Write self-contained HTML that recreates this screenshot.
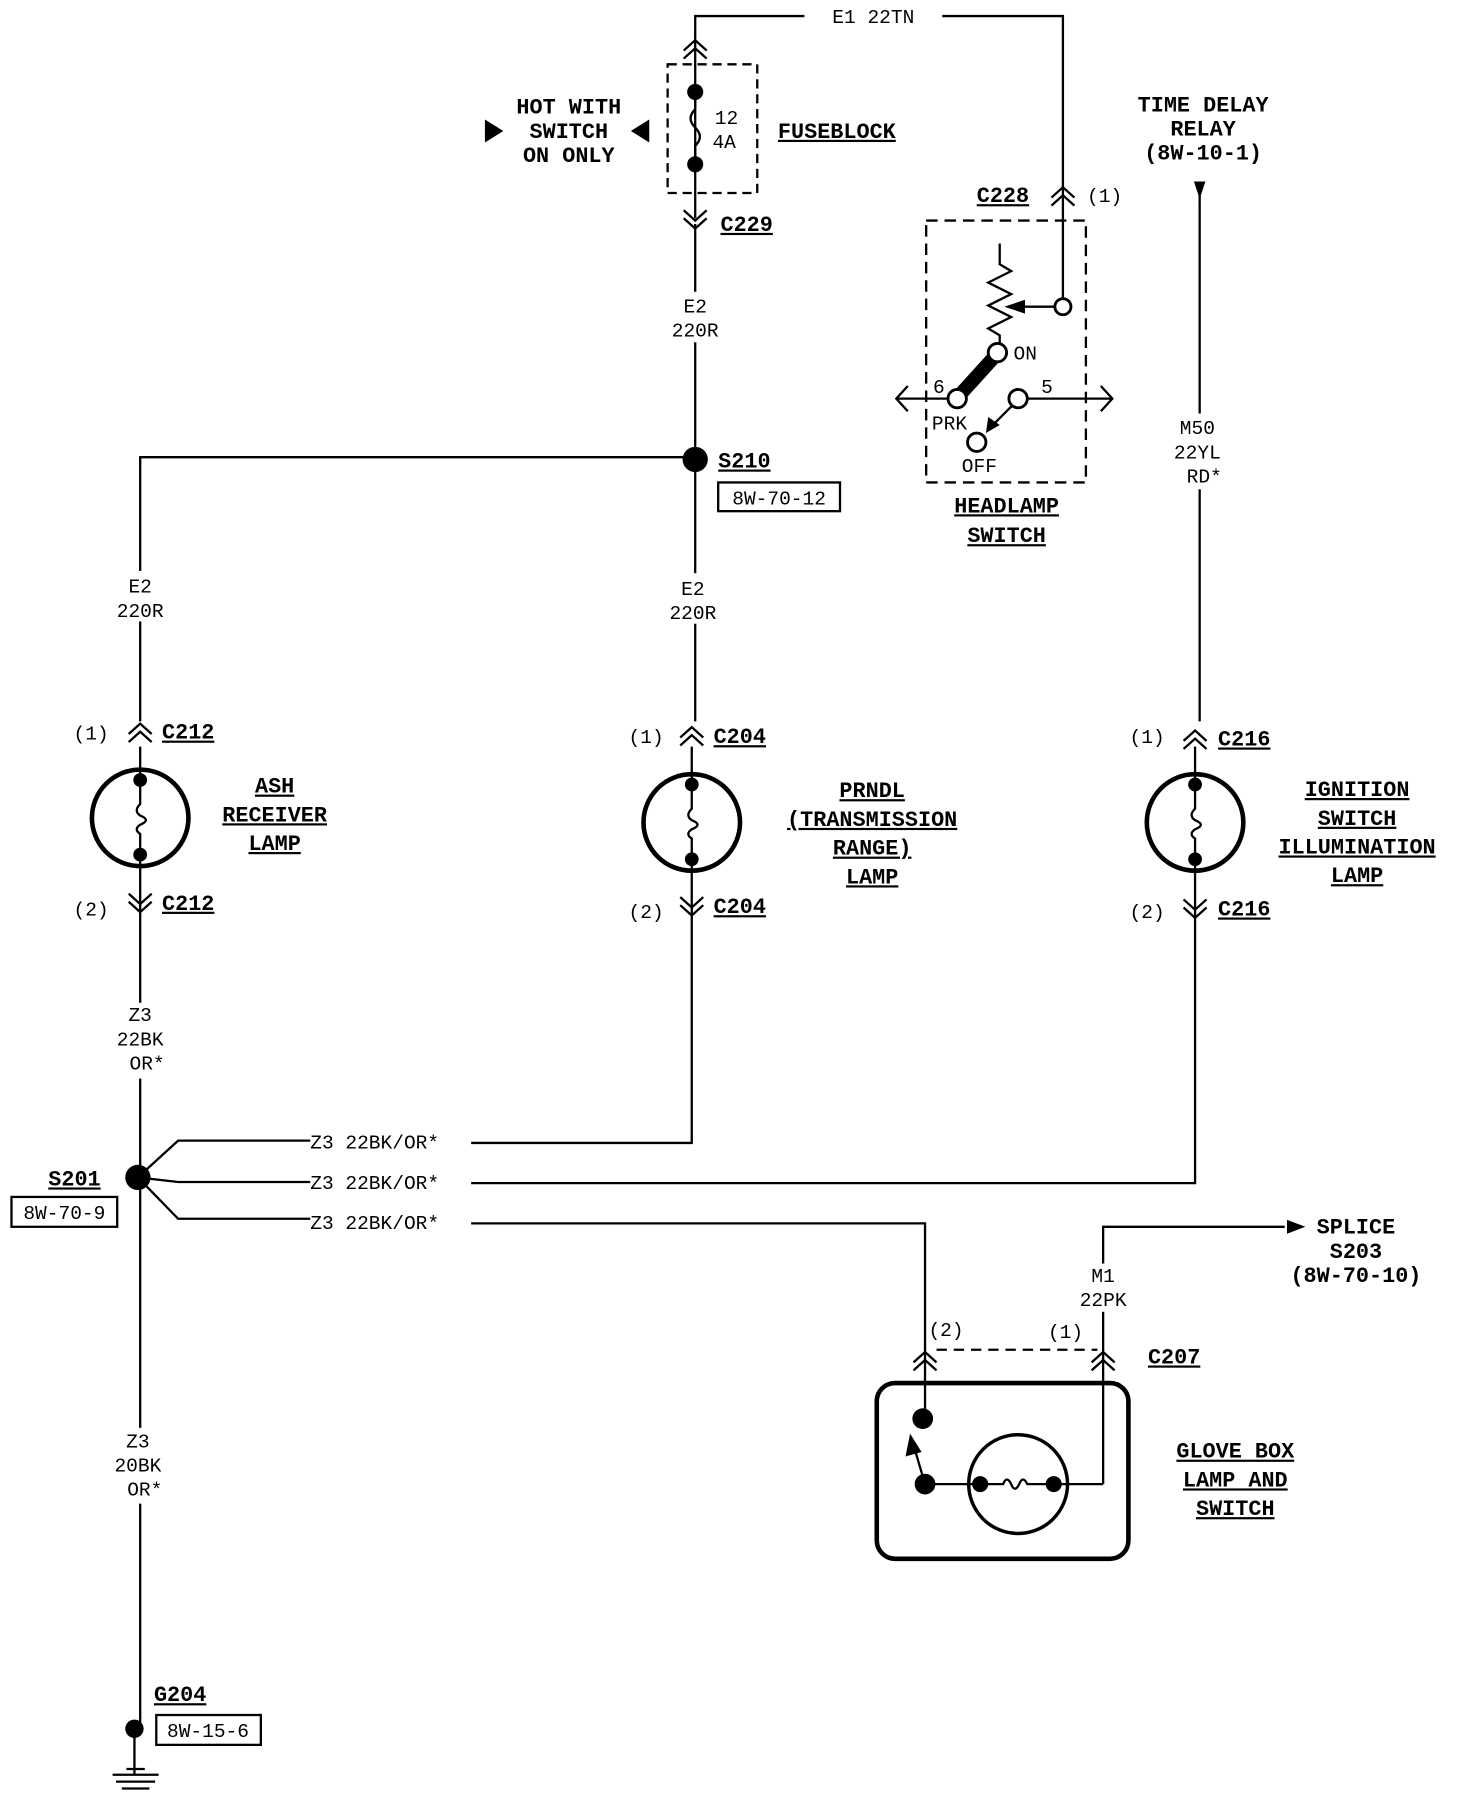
<!DOCTYPE html>
<html><head><meta charset="utf-8"><style>
html,body{margin:0;padding:0;background:#fff;}
svg{display:block}
text{font-family:"Liberation Mono",monospace;fill:#000}
.b{font-weight:bold;font-size:19px;text-decoration:underline}
.bn{font-weight:bold;font-size:19px}
.n{font-size:17px}
</style></head><body>
<svg width="1472" height="1800" viewBox="0 0 1281 1567" preserveAspectRatio="none" xmlns="http://www.w3.org/2000/svg">
<defs>
<path id="cu" d="M-10,6 L0,-3 L10,6 M-10,13 L0,4 L10,13" fill="none" stroke="#000" stroke-width="2"/>
<path id="cd" d="M-10,-6 L0,3 L10,-6 M-10,-13 L0,-4 L10,-13" fill="none" stroke="#000" stroke-width="2"/>
</defs>
<g fill="none" stroke="#000" stroke-width="2">
<path d="M605,190 V14 H700 M820,14 H925 V267"/>
<rect x="581" y="56" width="78" height="112" stroke-dasharray="8,5"/>
<path d="M605,80 V95 q-8,8 0,16 q8,8 0,16 V143"/>
<path d="M605,195 V628 M605,398 H122 V628"/>
<path d="M122,650 V670 M122,756 V1505 M602,650 V673 M602,759 V995 H410"/>
<path d="M1040,650 V673 M1040,759 V1030 H410"/>
<path d="M1044,175 V628"/>
<path d="M120,1025 L155,993 H270 M120,1025 L155,1029 H270 M120,1025 L155,1061 H270"/>
<path d="M410,1065 H805 V1235"/>
<path d="M960,1292 V1068 H1118"/>
<path d="M815,1175 H955" stroke-dasharray="9,6"/>
<circle cx="122" cy="712" r="42" stroke-width="4"/>
<circle cx="602" cy="716" r="42" stroke-width="4"/>
<circle cx="1040" cy="716" r="42" stroke-width="4"/>
<path d="M122,670 V700 q-6,6 0,10 q10,4 0,8 q-6,4 0,8 V756 M602,673 V704 q-6,6 0,10 q10,4 0,8 q-6,4 0,8 V759 M1040,673 V704 q-6,6 0,10 q10,4 0,8 q-6,4 0,8 V759"/>
<rect x="763" y="1204" width="219" height="153" rx="16" stroke-width="4"/>
<circle cx="886" cy="1292" r="43" stroke-width="3"/>
<path d="M805,1292 H853 M917,1292 H960 M853,1292 h20 q3,-8 7,0 q3,8 7,0 q3,-8 7,0 h23"/>
<path d="M805,1292 L795,1258"/>
<rect x="806" y="192" width="139" height="228" stroke-dasharray="10,6"/>
<path d="M870,212 V230 l10,6 l-20,10 l20,10 l-20,10 l20,10 l-20,10 l10,6 V300"/>
<path d="M925,267 H890"/>
<path d="M780,347 H827 M892,347 H968 M790,336 L780,347 L790,358 M958,336 L968,347 L958,358"/>
<path d="M882,352 L862,372"/>
<path d="M836,343 L865,311" stroke-width="12"/>
<path d="M1044,160 V175"/>
<path d="M110,1540 H126 M98,1545 H138 M101,1551 H135 M106,1557 H130 M117,1505 V1545"/>
<rect x="625" y="420" width="106" height="25"/>
<rect x="10" y="1042" width="92" height="26"/>
<rect x="136" y="1493" width="91" height="26"/>
</g>
<g fill="#fff">
<rect x="575" y="254" width="60" height="44"/>
<rect x="92" y="497" width="60" height="44"/>
<rect x="573" y="499" width="60" height="44"/>
<rect x="92" y="873" width="60" height="66"/>
<rect x="90" y="1243" width="60" height="66"/>
<rect x="1010" y="360" width="66" height="66"/>
<rect x="930" y="1100" width="60" height="42"/>
</g>
<g fill="#fff" stroke="#000" stroke-width="2.5">
<circle cx="925" cy="267" r="7"/>
<circle cx="868" cy="307" r="8"/>
<circle cx="833" cy="347" r="8"/>
<circle cx="886" cy="347" r="8"/>
<circle cx="850" cy="385" r="8"/>
</g>
<g fill="#000">
<circle cx="605" cy="80" r="7"/><circle cx="605" cy="143" r="7"/>
<circle cx="605" cy="400" r="11"/><circle cx="120" cy="1025" r="11"/>
<circle cx="117" cy="1505" r="8"/>
<circle cx="122" cy="679" r="6"/><circle cx="122" cy="744" r="6"/>
<circle cx="602" cy="683" r="6"/><circle cx="602" cy="748" r="6"/>
<circle cx="1040" cy="683" r="6"/><circle cx="1040" cy="748" r="6"/>
<circle cx="803" cy="1235" r="9"/><circle cx="805" cy="1292" r="9"/>
<circle cx="853" cy="1292" r="7"/><circle cx="917" cy="1292" r="7"/>
<path d="M874,267 L892,261 L892,273Z"/>
<path d="M858,377 L860,363 L870,370Z"/>
<path d="M792,1248 L788,1268 L802,1264Z"/>
<path d="M1044,173 L1039,158 L1049,158Z"/>
<path d="M422,104 L438,114 L422,124Z M565,104 L549,114 L565,124Z"/>
<path d="M1136,1068 L1120,1062 L1120,1074Z"/>
</g>
<use href="#cu" x="605" y="38"/><use href="#cd" x="605" y="196"/>
<use href="#cu" x="925" y="166"/>
<use href="#cu" x="122" y="633"/><use href="#cd" x="122" y="791"/>
<use href="#cu" x="602" y="636"/><use href="#cd" x="602" y="794"/>
<use href="#cu" x="1040" y="639"/><use href="#cd" x="1040" y="796"/>
<use href="#cu" x="805" y="1180"/><use href="#cu" x="960" y="1180"/>
<text class="n" x="760" y="20" text-anchor="middle">E1 22TN</text>
<text class="bn" x="495" y="99" text-anchor="middle">HOT WITH</text>
<text class="bn" x="495" y="120" text-anchor="middle">SWITCH</text>
<text class="bn" x="495" y="141" text-anchor="middle">ON ONLY</text>
<text class="n" x="622" y="108">12</text><text class="n" x="620" y="129">4A</text>
<text class="b" x="677" y="120">FUSEBLOCK</text>
<text class="b" x="627" y="201">C229</text>
<text class="n" x="605" y="272" text-anchor="middle">E2</text>
<text class="n" x="605" y="293" text-anchor="middle">220R</text>
<text class="b" x="625" y="407">S210</text>
<text class="n" x="678" y="439" text-anchor="middle">8W-70-12</text>
<text class="bn" x="1047" y="97" text-anchor="middle">TIME DELAY</text>
<text class="bn" x="1047" y="118" text-anchor="middle">RELAY</text>
<text class="bn" x="1047" y="139" text-anchor="middle">(8W-10-1)</text>
<text class="b" x="850" y="176">C228</text><text class="n" x="946" y="176">(1)</text>
<text class="n" x="882" y="313">ON</text><text class="n" x="812" y="342">6</text>
<text class="n" x="906" y="342">5</text><text class="n" x="811" y="374">PRK</text>
<text class="n" x="837" y="411">OFF</text>
<text class="b" x="876" y="446" text-anchor="middle">HEADLAMP</text>
<text class="b" x="876" y="472" text-anchor="middle">SWITCH</text>
<text class="n" x="1042" y="378" text-anchor="middle">M50</text>
<text class="n" x="1042" y="399" text-anchor="middle">22YL</text>
<text class="n" x="1048" y="420" text-anchor="middle">RD*</text>
<text class="n" x="122" y="516" text-anchor="middle">E2</text><text class="n" x="122" y="537" text-anchor="middle">220R</text>
<text class="n" x="603" y="518" text-anchor="middle">E2</text><text class="n" x="603" y="539" text-anchor="middle">220R</text>
<text class="n" x="64" y="644">(1)</text><text class="b" x="141" y="643">C212</text>
<text class="n" x="64" y="797">(2)</text><text class="b" x="141" y="792">C212</text>
<text class="n" x="547" y="647">(1)</text><text class="b" x="621" y="647">C204</text>
<text class="n" x="547" y="799">(2)</text><text class="b" x="621" y="795">C204</text>
<text class="n" x="983" y="647">(1)</text><text class="b" x="1060" y="649">C216</text>
<text class="n" x="983" y="799">(2)</text><text class="b" x="1060" y="797">C216</text>
<text class="b" x="239" y="690" text-anchor="middle">ASH</text>
<text class="b" x="239" y="715" text-anchor="middle">RECEIVER</text>
<text class="b" x="239" y="740" text-anchor="middle">LAMP</text>
<text class="b" x="759" y="694" text-anchor="middle">PRNDL</text>
<text class="b" x="759" y="719" text-anchor="middle">(TRANSMISSION</text>
<text class="b" x="759" y="744" text-anchor="middle">RANGE)</text>
<text class="b" x="759" y="769" text-anchor="middle">LAMP</text>
<text class="b" x="1181" y="693" text-anchor="middle">IGNITION</text>
<text class="b" x="1181" y="718" text-anchor="middle">SWITCH</text>
<text class="b" x="1181" y="743" text-anchor="middle">ILLUMINATION</text>
<text class="b" x="1181" y="768" text-anchor="middle">LAMP</text>
<text class="n" x="122" y="889" text-anchor="middle">Z3</text>
<text class="n" x="122" y="910" text-anchor="middle">22BK</text>
<text class="n" x="128" y="931" text-anchor="middle">OR*</text>
<text class="n" x="270" y="1000">Z3 22BK/OR*</text>
<text class="n" x="270" y="1035">Z3 22BK/OR*</text>
<text class="n" x="270" y="1070">Z3 22BK/OR*</text>
<text class="b" x="42" y="1032">S201</text>
<text class="n" x="56" y="1061" text-anchor="middle">8W-70-9</text>
<text class="bn" x="1180" y="1074" text-anchor="middle">SPLICE</text>
<text class="bn" x="1180" y="1095" text-anchor="middle">S203</text>
<text class="bn" x="1180" y="1116" text-anchor="middle">(8W-70-10)</text>
<text class="n" x="960" y="1116" text-anchor="middle">M1</text>
<text class="n" x="960" y="1137" text-anchor="middle">22PK</text>
<text class="n" x="808" y="1163">(2)</text><text class="n" x="912" y="1165">(1)</text>
<text class="b" x="999" y="1187">C207</text>
<text class="b" x="1075" y="1269" text-anchor="middle">GLOVE BOX</text>
<text class="b" x="1075" y="1294" text-anchor="middle">LAMP AND</text>
<text class="b" x="1075" y="1319" text-anchor="middle">SWITCH</text>
<text class="n" x="120" y="1260" text-anchor="middle">Z3</text>
<text class="n" x="120" y="1281" text-anchor="middle">20BK</text>
<text class="n" x="126" y="1302" text-anchor="middle">OR*</text>
<text class="b" x="134" y="1481">G204</text>
<text class="n" x="181" y="1512" text-anchor="middle">8W-15-6</text>
</svg>
</body></html>
